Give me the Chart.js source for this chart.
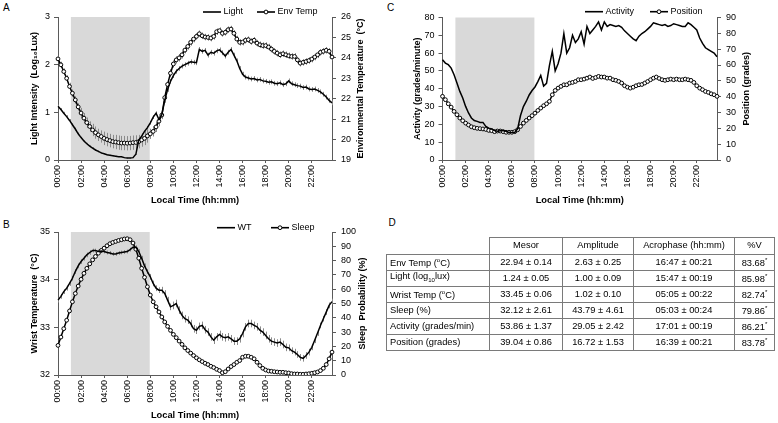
<!DOCTYPE html>
<html><head><meta charset="utf-8">
<script src="https://cdn.jsdelivr.net/npm/chart.js@4"></script>
<style>
body{margin:0;background:#fff;width:778px;height:423px;position:relative;overflow:hidden;font-family:"Liberation Sans",Arial,sans-serif;}
canvas{position:absolute;}
.lbl{position:absolute;font-size:10px;line-height:10px;color:#000;}
table{position:absolute;left:386px;top:236.5px;border-collapse:collapse;font-size:9.3px;table-layout:fixed;color:#000;}
td{border:1px solid #7a7a7a;padding:0 3px;text-align:center;white-space:nowrap;line-height:11px;}
td.l{text-align:left;}
tr{height:16px;}
tr.h{height:17px;}
td.e{border:none;}
sup.s{font-size:6px;vertical-align:4px;}
</style></head><body>
<div class="lbl" style="left:3px;top:2.5px">A</div>
<div class="lbl" style="left:387px;top:3px">C</div>
<div class="lbl" style="left:3px;top:219.5px">B</div>
<div class="lbl" style="left:388.5px;top:218px">D</div>
<canvas id="cA" width="390" height="206" style="left:0;top:0"></canvas>
<canvas id="cB" width="390" height="206" style="left:0;top:215px"></canvas>
<canvas id="cC" width="388" height="206" style="left:390px;top:0"></canvas>
<table>
<colgroup><col style="width:103px"><col style="width:73px"><col style="width:71px"><col style="width:101px"><col style="width:40px"></colgroup>
<tr class="h"><td class="e"></td><td>Mesor</td><td>Amplitude</td><td>Acrophase (hh:mm)</td><td>%V</td></tr>
<tr><td class="l">Env Temp (<sup style="font-size:6px">o</sup>C)</td><td>22.94 ± 0.14</td><td>2.63 ± 0.25</td><td>16:47 ± 00:21</td><td>83.68<sup class="s">*</sup></td></tr>
<tr><td class="l">Light (log<sub style="font-size:6px">10</sub>lux)</td><td>1.24 ± 0.05</td><td>1.00 ± 0.09</td><td>15:47 ± 00:19</td><td>85.98<sup class="s">*</sup></td></tr>
<tr><td class="l">Wrist Temp (<sup style="font-size:6px">o</sup>C)</td><td>33.45 ± 0.06</td><td>1.02 ± 0.10</td><td>05:05 ± 00:22</td><td>82.74<sup class="s">*</sup></td></tr>
<tr><td class="l">Sleep (%)</td><td>32.12 ± 2.61</td><td>43.79 ± 4.61</td><td>05:03 ± 00:24</td><td>79.86<sup class="s">*</sup></td></tr>
<tr><td class="l">Activity (grades/min)</td><td>53.86 ± 1.37</td><td>29.05 ± 2.42</td><td>17:01 ± 00:19</td><td>86.21<sup class="s">*</sup></td></tr>
<tr><td class="l">Position (grades)</td><td>39.04 ± 0.86</td><td>16.72 ± 1.53</td><td>16:39 ± 00:21</td><td>83.78<sup class="s">*</sup></td></tr>
</table>
<script>
// ---- categories (15-min bins) ----
const times = [];
for (let h = 0; h < 24; h++) for (let m = 0; m < 60; m += 15)
  times.push(String(h).padStart(2, '0') + ':' + String(m).padStart(2, '0'));
const xTickLabels = ['00:00','02:00','04:00','06:00','08:00','10:00','12:00','14:00','16:00','18:00','20:00','22:00'];
const shadeStart = '01:07', shadeEnd = '07:57';

// ---- Panel A ----
const light = [
  1.13,1.06,0.98,0.91,0.83,0.74,0.65,0.55,
  0.47,0.40,0.34,0.29,0.25,0.21,0.18,0.15,
  0.13,0.11,0.10,0.09,0.08,0.07,0.07,0.05,
  0.04,0.04,0.05,0.12,0.42,0.50,0.60,0.68,
  0.78,0.90,0.98,0.85,0.95,1.25,1.48,1.65,
  1.77,1.86,1.92,1.97,2.00,2.03,2.06,2.05,
  2.04,2.32,2.28,2.30,2.20,2.26,2.24,2.29,
  2.31,2.25,2.18,2.26,2.32,2.20,2.08,1.92,
  1.80,1.74,1.72,1.70,1.71,1.68,1.69,1.66,
  1.65,1.63,1.64,1.61,1.60,1.62,1.58,1.60,
  1.66,1.60,1.58,1.56,1.55,1.52,1.53,1.49,
  1.48,1.49,1.46,1.43,1.38,1.32,1.25,1.20];
const envTemp = [
  23.95,23.66,23.33,23.00,22.60,22.27,21.94,21.60,
  21.30,21.05,20.83,20.64,20.47,20.34,20.23,20.15,
  20.06,20.00,19.95,19.90,19.88,19.85,19.83,19.83,
  19.82,19.83,19.85,19.86,19.90,19.98,20.06,20.18,
  20.28,20.40,20.62,20.90,21.20,22.05,22.70,23.25,
  23.70,23.90,24.00,24.15,24.38,24.56,24.76,24.92,
  25.05,25.18,25.08,25.02,25.00,24.97,25.05,25.28,
  25.33,25.20,25.25,25.38,25.41,25.20,24.92,24.76,
  24.77,24.86,24.89,24.80,24.86,24.72,24.64,24.60,
  24.60,24.53,24.43,24.32,24.23,24.15,24.20,24.15,
  24.10,24.07,24.07,23.90,23.74,23.78,23.82,23.87,
  23.94,24.04,24.15,24.27,24.32,24.37,24.32,24.04];
const lightErrHourly = [0.03,0.03,0.02,0.02,0.01,0.01,0.01,0.03,0.04,0.05,0.05,0.05,0.05,0.05,0.05,0.05,0.05,0.05,0.05,0.05,0.05,0.05,0.05,0.05];
const envErrHourly = [0.15,0.18,0.25,0.30,0.33,0.35,0.35,0.33,0.25,0.20,0.18,0.16,0.16,0.16,0.16,0.16,0.16,0.16,0.16,0.16,0.16,0.16,0.16,0.16];

// ---- Panel B ----
const wristTemp = [
  33.57,33.65,33.75,33.82,33.92,34.03,34.17,34.29,
  34.38,34.45,34.52,34.57,34.61,34.61,34.59,34.60,
  34.59,34.57,34.56,34.54,34.54,34.56,34.57,34.58,
  34.59,34.63,34.68,34.68,34.59,34.45,34.29,34.17,
  34.06,33.92,33.82,33.78,33.78,33.71,33.57,33.43,
  33.46,33.50,33.36,33.25,33.18,33.15,33.08,32.97,
  32.94,33.02,33.04,32.95,32.90,32.80,32.73,32.80,
  32.85,32.80,32.78,32.80,32.76,32.71,32.71,32.76,
  32.87,33.01,33.08,33.08,33.04,33.01,32.94,32.90,
  32.83,32.76,32.71,32.69,32.67,32.69,32.64,32.58,
  32.57,32.51,32.48,32.43,32.37,32.35,32.41,32.48,
  32.58,32.73,32.88,33.04,33.18,33.32,33.46,33.54];
const sleepProb = [
  20.7,26.5,32.4,38.3,44.8,51.2,57.0,62.2,
  66.9,71.1,74.6,77.7,80.5,82.9,85.2,87.1,
  88.7,90.4,91.8,92.7,93.4,94.1,94.6,95.1,
  95.3,94.6,92.3,88.0,81.7,74.6,68.3,61.7,
  55.9,51.2,47.7,44.1,40.6,37.1,34.0,31.2,
  28.4,26.1,23.7,21.4,19.0,17.1,15.3,13.6,
  12.0,10.6,9.4,8.2,7.3,6.1,5.2,4.0,
  3.1,1.6,2.3,4.2,5.9,7.3,8.9,10.1,
  12.4,13.1,13.1,12.4,11.3,8.9,6.6,4.7,
  3.5,2.8,2.6,2.3,2.1,1.9,1.9,1.6,
  1.4,0.9,0.7,0.7,0.5,0.5,0.7,0.9,
  1.2,1.6,2.1,3.1,4.7,7.3,11.3,16.0];
const wtErrHourly = [0.05,0.05,0.05,0.04,0.04,0.04,0.04,0.05,0.06,0.07,0.08,0.08,0.08,0.08,0.08,0.08,0.08,0.08,0.08,0.08,0.07,0.07,0.06,0.06];

// ---- Panel C ----
const activity = [
  56.3,54.4,53.5,51.6,47.9,43.2,38.5,34.8,
  30.1,26.4,23.6,22.2,21.7,21.1,21.1,18.9,
  17.9,17.4,16.6,16.1,16.4,16.6,16.1,15.5,
  15.5,15.5,17.5,25.0,30.0,33.0,36.5,39.0,
  41.0,44.0,47.5,41.5,43.0,53.0,61.0,50.0,
  54.0,60.0,71.0,60.0,63.0,70.0,66.0,68.0,
  72.0,65.0,75.0,71.0,73.0,75.0,77.5,73.0,
  77.5,75.0,76.0,75.5,75.0,75.5,74.5,72.5,
  71.0,69.5,68.0,67.0,69.5,71.0,72.0,73.5,
  75.0,77.0,76.5,76.0,75.5,76.0,75.0,75.5,
  76.5,76.0,75.5,75.0,75.0,77.0,76.0,74.5,
  73.0,68.5,65.5,63.0,62.0,61.0,60.0,58.0];
const position = [
  40.2,38.1,35.5,33.4,30.7,28.6,26.5,24.8,
  23.3,22.1,21.0,20.4,20.0,19.8,19.6,19.3,
  18.7,18.5,17.9,18.3,18.3,17.9,17.5,17.5,
  17.5,17.9,19.1,21.2,23.3,25.0,26.5,28.0,
  29.6,31.3,32.8,34.3,35.5,37.0,41.2,43.9,
  45.4,46.5,47.5,47.5,48.6,49.0,49.6,50.7,
  50.7,51.1,51.7,52.4,51.5,52.1,52.8,52.4,
  52.4,51.7,51.7,50.7,50.3,49.6,48.6,46.9,
  46.0,45.4,46.0,46.9,47.5,47.7,48.6,49.6,
  50.7,51.7,52.4,51.5,50.7,50.3,50.7,51.1,
  50.7,51.1,50.7,50.7,51.1,50.7,50.3,49.0,
  46.9,45.4,44.4,43.3,42.7,41.8,41.2,40.2];

// ---- helpers ----
const FONT = '"Liberation Sans", Arial, sans-serif';
Chart.defaults.font.family = FONT;
Chart.defaults.color = '#000';
const AX = '#5a5a5a';
const toIndex = t => { const [h, m] = t.split(':').map(Number); return (h * 60 + m) / 15; };

function decoPlugin(cfg) {
  return {
    id: 'deco',
    beforeDatasetsDraw(chart) {
      const ctx = chart.ctx, a = chart.chartArea, x = chart.scales.x;
      const x0 = x.getPixelForValue(toIndex(shadeStart)), x1 = x.getPixelForValue(toIndex(shadeEnd));
      ctx.save();
      ctx.fillStyle = '#d9d9d9';
      ctx.fillRect(x0, a.top, x1 - x0, a.bottom - a.top);
      chart.data.datasets.forEach(ds => {
        if (!ds.errHourly) return;
        const ys = chart.scales[ds.yAxisID];
        ctx.strokeStyle = '#8a8a8a'; ctx.lineWidth = 1;
        ctx.beginPath();
        ds.data.forEach((v, j) => {
          const e = ds.errHourly[Math.floor(j / 4)];
          const px = Math.round(x.getPixelForValue(j)) + 0.5;
          ctx.moveTo(px, ys.getPixelForValue(v - e));
          ctx.lineTo(px, ys.getPixelForValue(v + e));
        });
        ctx.stroke();
      });
      ctx.restore();
    },
    afterDraw(chart) {
      const ctx = chart.ctx, a = chart.chartArea;
      ctx.save();
      ctx.font = 'bold 9px ' + FONT;
      ctx.fillStyle = '#000';
      ctx.translate(a.right + cfg.rightTitleOffset, (a.top + a.bottom) / 2);
      ctx.rotate(-Math.PI / 2);
      ctx.textAlign = 'center'; ctx.textBaseline = 'middle';
      ctx.fillText(cfg.rightTitle, 0, 0);
      ctx.restore();
      ctx.save();
      ctx.font = '9px ' + FONT;
      chart.data.datasets.forEach((ds, k) => {
        const lx = cfg.legendX[k], ly = cfg.legendY;
        ctx.strokeStyle = '#000'; ctx.lineWidth = 1.6;
        ctx.beginPath(); ctx.moveTo(lx, ly); ctx.lineTo(lx + 18, ly); ctx.stroke();
        if (ds.pointRadius > 0) {
          ctx.beginPath(); ctx.arc(lx + 9, ly, 1.9, 0, Math.PI * 2);
          ctx.fillStyle = '#fff'; ctx.fill(); ctx.lineWidth = 1; ctx.stroke();
        }
        ctx.fillStyle = '#000'; ctx.textAlign = 'left'; ctx.textBaseline = 'middle';
        ctx.fillText(ds.label, lx + 20.5, ly);
      });
      ctx.restore();
    }
  };
}

function lineDs(label, data, axis, err) {
  return { label, data, yAxisID: axis, borderColor: '#000', borderWidth: 1.5, pointRadius: 0, errHourly: err };
}
function markerDs(label, data, axis, err) {
  return { label, data, yAxisID: axis, borderColor: '#000', borderWidth: 1.5, pointRadius: 1.9,
    pointBackgroundColor: '#fff', pointBorderColor: '#000', pointBorderWidth: 1, errHourly: err };
}

function makeChart(id, cfg) {
  return new Chart(document.getElementById(id), {
    type: 'line',
    data: { labels: times, datasets: cfg.datasets },
    options: {
      responsive: false, animation: false, devicePixelRatio: 1,
      layout: { padding: { left: 0, right: 0, top: cfg.top, bottom: 0 } },
      plugins: { legend: { display: false }, tooltip: { enabled: false } },
      elements: { line: { tension: 0 } },
      scales: {
        x: {
          type: 'category', offset: false,
          grid: { drawOnChartArea: false, drawTicks: true, tickLength: 3, color: AX },
          border: { color: AX },
          ticks: { autoSkip: false, minRotation: 90, maxRotation: 90, padding: 2, font: { size: 9 }, color: '#000' },
          afterBuildTicks: s => { s.ticks = s.ticks.filter(t => xTickLabels.includes(times[t.value])); },
          afterFit: s => { s.height = cfg.xh; },
          title: { display: true, text: 'Local Time (hh:mm)', font: { size: 9.3, weight: 'bold' }, color: '#000', padding: { top: 0, bottom: 0 } }
        },
        y: {
          position: 'left', min: cfg.yMin, max: cfg.yMax,
          ticks: { stepSize: cfg.yStep, font: { size: 9 }, color: '#000', padding: 4 },
          grid: { drawOnChartArea: false, tickLength: 4, color: AX }, border: { color: AX },
          title: { display: true, text: cfg.yTitle, font: { size: 9, weight: 'bold' }, color: '#000', padding: { top: cfg.leftTitlePad, bottom: 0 } },
          afterFit: s => { s.width = cfg.lw; }
        },
        y1: {
          position: 'right', min: cfg.y1Min, max: cfg.y1Max,
          ticks: { stepSize: cfg.y1Step, font: { size: 9 }, color: '#000', padding: 5 },
          grid: { drawOnChartArea: false, tickLength: 4, color: AX }, border: { color: AX },
          afterFit: s => { s.width = cfg.rw; }
        }
      }
    },
    plugins: [decoPlugin(cfg)]
  });
}

makeChart('cA', {
  datasets: [lineDs('Light', light, 'y', lightErrHourly), markerDs('Env Temp', envTemp, 'y1', envErrHourly)],
  top: 17, xh: 46, lw: 58, rw: 58, leftTitlePad: 29.5,
  yMin: 0, yMax: 3, yStep: 1, yTitle: 'Light Intensity  (Log\u2081\u2080Lux)',
  y1Min: 19, y1Max: 26, y1Step: 1,
  rightTitle: 'Environmental Temperature  (\u00B0C)', rightTitleOffset: 29,
  legendX: [203, 257], legendY: 12
});
makeChart('cB', {
  datasets: [lineDs('WT', wristTemp, 'y', wtErrHourly), markerDs('Sleep', sleepProb, 'y1', null)],
  top: 17, xh: 46, lw: 58, rw: 58, leftTitlePad: 29.3,
  yMin: 32, yMax: 35, yStep: 1, yTitle: 'Wrist Temperature  (\u00B0C)',
  y1Min: 0, y1Max: 100, y1Step: 10,
  rightTitle: 'Sleep  Probability (%)', rightTitleOffset: 31,
  legendX: [217, 271], legendY: 12.7
});
makeChart('cC', {
  datasets: [lineDs('Activity', activity, 'y', null), markerDs('Position', position, 'y1', null)],
  top: 17.5, xh: 46, lw: 52.5, rw: 61, leftTitlePad: 22.3,
  yMin: 0, yMax: 80, yStep: 10, yTitle: 'Activity (grades/minute)',
  y1Min: 0, y1Max: 90, y1Step: 10,
  rightTitle: 'Position (grades)', rightTitleOffset: 29.7,
  legendX: [195, 260], legendY: 11.7
});
</script>
</body></html>
